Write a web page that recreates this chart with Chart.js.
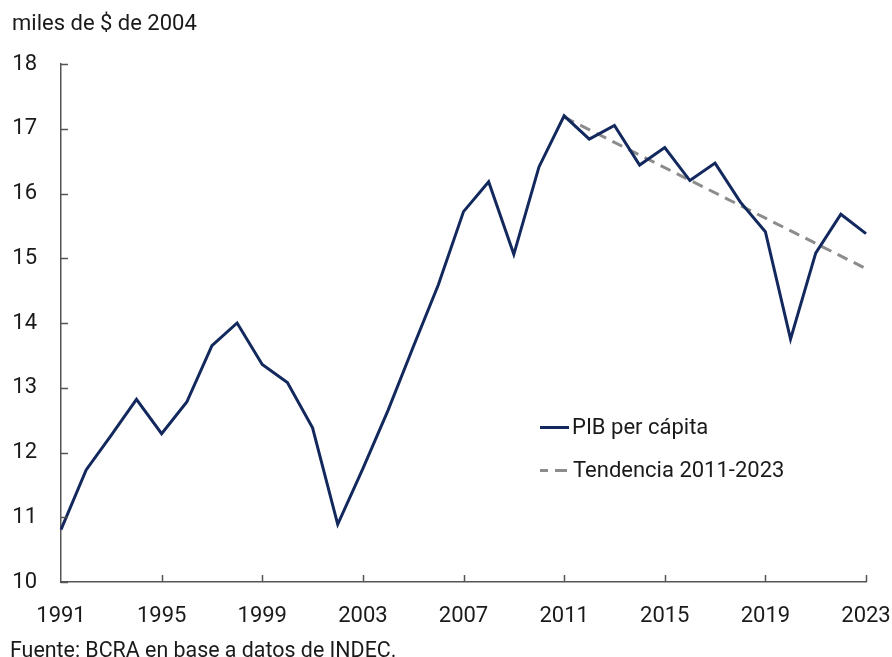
<!DOCTYPE html>
<html>
<head>
<meta charset="utf-8">
<script src="https://cdn.jsdelivr.net/npm/chart.js@4.4.1/dist/chart.umd.min.js"></script>
<style>
  html, body { margin: 0; padding: 0; background: #fff; }
  #wrap { position: relative; width: 892px; height: 657px; font-family: Roboto, sans-serif; color: #1a1a1a; }
  #wrap canvas { position: absolute; left: 0; top: 0; }
  .txt { position: absolute; white-space: nowrap; font-size: 22px; line-height: 1; }
  .swatch { position: absolute; height: 0; }
</style>
</head>
<body>
<div id="wrap">
  <canvas id="pibChart" width="892" height="657"></canvas>
  <div class="txt" style="left:12px; top:12px;">miles de $ de 2004</div>
  <div class="swatch" style="left:540px; top:426px; width:29px; border-top:3px solid #13295e;"></div>
  <div class="txt" style="left:572px; top:416px;">PIB per cápita</div>
  <div class="swatch" style="left:540px; top:469px; width:8px; border-top:3px solid #8c8c8c;"></div>
  <div class="swatch" style="left:555px; top:469px; width:12px; border-top:3px solid #8c8c8c;"></div>
  <div class="txt" style="left:573px; top:459px;">Tendencia 2011-2023</div>
  <div class="txt" style="left:10px; top:639px; font-size:21.4px;">Fuente: BCRA en base a datos de INDEC.</div>
</div>
<script>
// Years on the x axis
const years = [1991, 1992, 1993, 1994, 1995, 1996, 1997, 1998, 1999, 2000,
  2001, 2002, 2003, 2004, 2005, 2006, 2007, 2008, 2009, 2010,
  2011, 2012, 2013, 2014, 2015, 2016, 2017, 2018, 2019, 2020,
  2021, 2022, 2023];

// PIB per cápita, miles de $ de 2004
const pibPerCapita = [10.81, 11.73, 12.27, 12.82, 12.29, 12.78, 13.65, 14.00, 13.36, 13.08,
  12.38, 10.89, 11.75, 12.65, 13.63, 14.59, 15.72, 16.18, 15.06, 16.41,
  17.20, 16.84, 17.05, 16.44, 16.71, 16.20, 16.47, 15.87, 15.41, 13.75,
  15.08, 15.68, 15.38];

// Tendencia 2011-2023 (straight line, only the end points)
const trend = [null, null, null, null, null, null, null, null, null, null,
  null, null, null, null, null, null, null, null, null, null,
  17.18, null, null, null, null, null, null, null, null, null,
  null, null, 14.84];

const yTicks = [10, 11, 12, 13, 14, 15, 16, 17, 18];
const xTickYears = [1991, 1995, 1999, 2003, 2007, 2011, 2015, 2019, 2023];

const axisColor = "#555555";

// small tick marks pointing into the plot
const innerTicks = {
  id: "innerTicks",
  afterDraw(chart) {
    const ctx = chart.ctx;
    const area = chart.chartArea;
    const x = chart.scales.x;
    const y = chart.scales.y;
    ctx.save();
    ctx.strokeStyle = axisColor;
    ctx.lineWidth = 1.5;
    ctx.beginPath();
    yTicks.forEach(v => {
      const py = Math.round(y.getPixelForValue(v)) + 0.5;
      ctx.moveTo(area.left, py);
      ctx.lineTo(area.left + 7, py);
    });
    xTickYears.forEach(v => {
      if (v === years[0]) return;
      const px = Math.round(x.getPixelForValue(years.indexOf(v))) + 0.5;
      ctx.moveTo(px, area.bottom);
      ctx.lineTo(px, area.bottom - 7);
    });
    ctx.stroke();
    ctx.restore();
  }
};

new Chart(document.getElementById("pibChart"), {
  type: "line",
  data: {
    labels: years,
    datasets: [{
      label: "PIB per cápita",
      data: pibPerCapita,
      borderColor: "#13295e",
      borderWidth: 3,
      pointRadius: 0,
      tension: 0
    }, {
      label: "Tendencia 2011-2023",
      data: trend,
      borderColor: "#8c8c8c",
      borderWidth: 3,
      borderDash: [11, 7],
      pointRadius: 0,
      spanGaps: true
    }]
  },
  options: {
    responsive: false,
    animation: false,
    layout: { padding: { top: 64, right: 26, bottom: 30, left: 0 } },
    plugins: {
      legend: { display: false },
      tooltip: { enabled: false }
    },
    scales: {
      x: {
        type: "category",
        offset: false,
        grid: { display: false },
        border: { display: true, color: axisColor, width: 1.5 },
        afterFit(scale) {
          scale.height = 45;
          scale.paddingLeft = 0;
          scale.paddingRight = 0;
        },
        ticks: {
          autoSkip: false,
          maxRotation: 0,
          padding: 13,
          color: "#1a1a1a",
          font: { family: "Roboto", size: 22 },
          callback(value, index) {
            const yr = years[index];
            return xTickYears.includes(yr) ? String(yr) : null;
          }
        }
      },
      y: {
        min: 10,
        max: 18,
        grid: { display: false },
        border: { display: true, color: axisColor, width: 1.5 },
        afterFit(scale) { scale.width = 61; },
        afterBuildTicks(scale) { scale.ticks = yTicks.map(v => ({ value: v })); },
        ticks: {
          padding: 16,
          color: "#1a1a1a",
          font: { family: "Roboto", size: 22 }
        }
      }
    }
  },
  plugins: [innerTicks]
});
</script>
</body>
</html>
